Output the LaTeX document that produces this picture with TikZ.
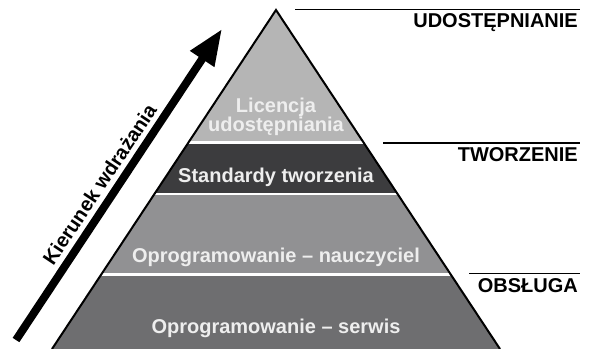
\documentclass[tikz,border=0pt]{standalone}
\usepackage{fontspec}
\setmainfont{Liberation Sans}
\usetikzlibrary{calc,arrows.meta}
\definecolor{bandA}{RGB}{181,181,181}
\definecolor{bandB}{RGB}{60,60,62}
\definecolor{bandC}{RGB}{145,145,147}
\definecolor{bandD}{RGB}{110,110,112}
\definecolor{bandtext}{RGB}{238,238,238}
\begin{document}
\begin{tikzpicture}[x=1pt,y=-1pt,
  bandlabel/.style={font=\fontsize{20}{20}\selectfont\bfseries, text=bandtext, align=center, inner sep=0pt, anchor=base},
  levellabel/.style={font=\fontsize{20}{20}\selectfont\bfseries, inner sep=0pt, anchor=base east},
  rule/.style={line width=1.3pt},
  divider/.style={white, line width=2.5pt},
  outline/.style={line width=2pt, line join=miter}]
\useasboundingbox (0,0) rectangle (591,348);

% pyramid corners
\coordinate (apex) at (276,10);
\coordinate (bl) at (52,349);
\coordinate (br) at (500,349);

% band boundaries on both slanted sides
\coordinate (l1) at ($(apex)!0.3905!(bl)$);
\coordinate (r1) at ($(apex)!0.3905!(br)$);
\coordinate (l2) at ($(apex)!0.5429!(bl)$);
\coordinate (r2) at ($(apex)!0.5429!(br)$);
\coordinate (l3) at ($(apex)!0.7796!(bl)$);
\coordinate (r3) at ($(apex)!0.7796!(br)$);

% bands
\fill[bandA] (apex) -- (r1) -- (l1) -- cycle;
\fill[bandB] (l1) -- (r1) -- (r2) -- (l2) -- cycle;
\fill[bandC] (l2) -- (r2) -- (r3) -- (l3) -- cycle;
\fill[bandD] (l3) -- (r3) -- (br) -- (bl) -- cycle;

% white separators
\draw[divider] (l1) -- (r1);
\draw[divider] (l2) -- (r2);
\draw[divider] (l3) -- (r3);

% outline of the slanted sides
\draw[outline] (bl) -- (apex) -- (br);

% band texts
\node[bandlabel] (lic) at (276,112.3) {Licencja};
\node[bandlabel] (udo) at (276,131.5) {udostępniania};
\node[bandlabel] (std) at (276,182.7) {Standardy tworzenia};
\node[bandlabel] (nau) at (276,262.3) {Oprogramowanie – nauczyciel};
\node[bandlabel] (ser) at (276,333.3) {Oprogramowanie – serwis};

% level rules and labels
\coordinate (u1) at (295,9.5);
\coordinate (u2) at (580,9.5);
\coordinate (t1) at (383,143);
\coordinate (t2) at (580,143);
\coordinate (o1) at (469,273.5);
\coordinate (o2) at (580,273.5);
\draw[rule] (u1) -- (u2);
\draw[rule] (t1) -- (t2);
\draw[rule] (o1) -- (o2);
\node[levellabel] (udl) at (578,27.3) {UDOSTĘPNIANIE};
\node[levellabel] (twl) at (578,161.7) {TWORZENIE};
\node[levellabel] (obl) at (578,292.7) {OBSŁUGA};

% direction arrow
\coordinate (tail) at (16,340);
\coordinate (tip) at (222,29);
\draw[line width=8pt, -{Triangle[length=36pt,width=27pt]}] (tail) -- (tip);
\node[font=\fontsize{20}{20}\selectfont\bfseries, rotate=56.3, inner sep=0pt] (dir) at (99.5,184.5) {Kierunek wdrażania};
\end{tikzpicture}
\end{document}
